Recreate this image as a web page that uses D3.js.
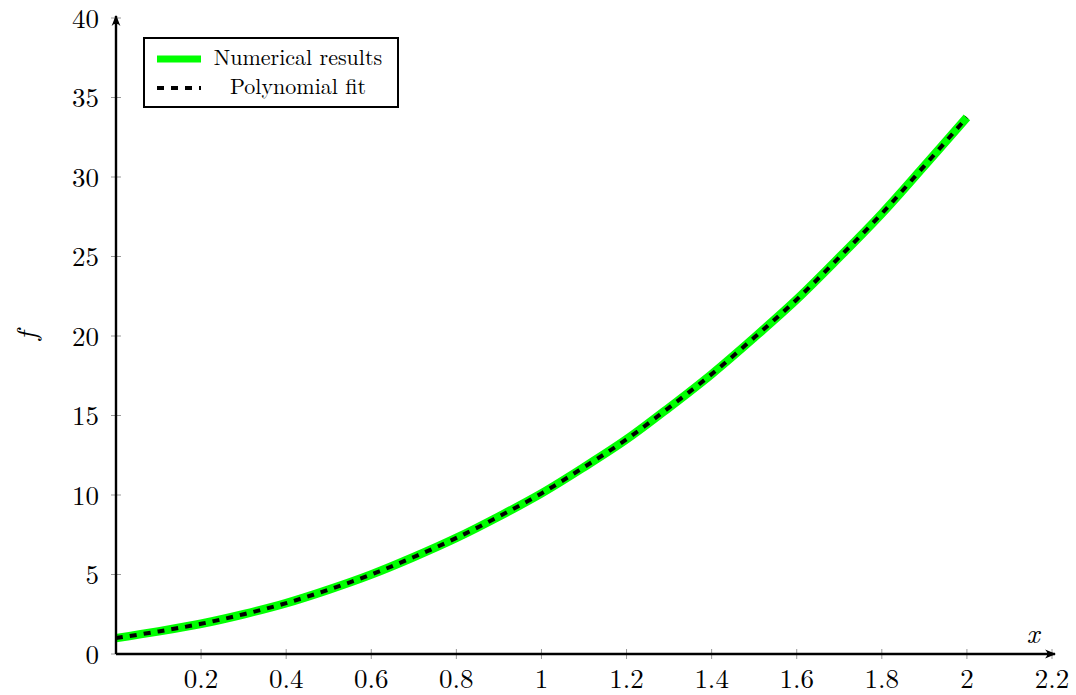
<!DOCTYPE html>
<html>
<head>
<meta charset="utf-8">
<script src="https://cdn.jsdelivr.net/npm/d3@7"></script>
<style>
  html, body { margin: 0; padding: 0; background: #fff; }
  svg text { font-family: "Latin Modern Roman", "Times New Roman", "DejaVu Serif", serif; fill: #000; }
</style>
</head>
<body>
<svg id="chart" width="1076" height="695"></svg>
<script>
// Sampled solution f(x) and its polynomial fit
const xValues = [0, 0.1, 0.2, 0.3, 0.4, 0.5, 0.6, 0.7, 0.8, 0.9, 1.0,
                 1.1, 1.2, 1.3, 1.4, 1.5, 1.6, 1.7, 1.8, 1.9, 2.0];
const numericalValues = [1.0, 1.42, 1.9, 2.5, 3.2, 4.05, 5.0, 6.1, 7.3, 8.65, 10.1,
                         11.75, 13.5, 15.5, 17.6, 19.9, 22.3, 24.95, 27.7, 30.7, 33.75];
const fitValues = [1.0, 1.42, 1.9, 2.5, 3.2, 4.05, 5.0, 6.1, 7.3, 8.65, 10.1,
                   11.75, 13.5, 15.5, 17.6, 19.9, 22.3, 24.95, 27.7, 30.7, 33.75];
const xTicks = [0.2, 0.4, 0.6, 0.8, 1, 1.2, 1.4, 1.6, 1.8, 2, 2.2];
const yTicks = [0, 5, 10, 15, 20, 25, 30, 35, 40];
const seriesNames = ["Numerical results", "Polynomial fit"];

const svg = d3.select("#chart");
const x = d3.scaleLinear().domain([0, 2.2]).range([116, 1052]);
const y = d3.scaleLinear().domain([0, 40]).range([654, 18]);

// arrow heads for the axes
const defs = svg.append("defs");
defs.append("marker")
  .attr("id", "arrow")
  .attr("viewBox", "0 0 10 10")
  .attr("refX", 9).attr("refY", 5)
  .attr("markerWidth", 11).attr("markerHeight", 11)
  .attr("markerUnits", "userSpaceOnUse")
  .attr("orient", "auto")
  .append("path")
  .attr("d", "M0,1 Q4,5 0,9 L10,5 Z")
  .attr("fill", "#000");

// tick marks (grey, crossing the axis lines)
svg.append("g").selectAll("line").data(xTicks).join("line")
  .attr("x1", d => x(d)).attr("x2", d => x(d))
  .attr("y1", y(0) - 5).attr("y2", y(0) + 5)
  .attr("stroke", "#999").attr("stroke-width", 1);
svg.append("g").selectAll("line").data(yTicks).join("line")
  .attr("x1", x(0) - 5).attr("x2", x(0) + 5)
  .attr("y1", d => y(d)).attr("y2", d => y(d))
  .attr("stroke", "#999").attr("stroke-width", 1);

// curves
const line = d3.line().curve(d3.curveCatmullRom.alpha(0.5));
svg.append("path")
  .attr("d", line(xValues.map((v, i) => [x(v), y(numericalValues[i])])))
  .attr("fill", "none").attr("stroke", "#00ff00").attr("stroke-width", 8.5);
svg.append("path")
  .attr("d", line(xValues.map((v, i) => [x(v), y(fitValues[i])])))
  .attr("fill", "none").attr("stroke", "#000").attr("stroke-width", 4)
  .attr("stroke-dasharray", "7 7");

// axis lines
svg.append("line")
  .attr("x1", x(0)).attr("x2", x(2.2) + 3)
  .attr("y1", y(0)).attr("y2", y(0))
  .attr("stroke", "#000").attr("stroke-width", 2.4)
  .attr("marker-end", "url(#arrow)");
svg.append("line")
  .attr("x1", x(0)).attr("x2", x(0))
  .attr("y1", y(0)).attr("y2", y(40) - 2)
  .attr("stroke", "#000").attr("stroke-width", 2.4)
  .attr("marker-end", "url(#arrow)");

// tick labels
svg.append("g").selectAll("text").data(xTicks).join("text")
  .attr("x", d => x(d)).attr("y", 688)
  .attr("text-anchor", "middle").attr("font-size", 27)
  .text(d => d3.format("~g")(d));
svg.append("g").selectAll("text").data(yTicks).join("text")
  .attr("x", 99).attr("y", d => y(d) + 9.5)
  .attr("text-anchor", "end").attr("font-size", 27)
  .text(d => d);

// axis titles
svg.append("text")
  .attr("x", 1033).attr("y", 643)
  .attr("text-anchor", "middle").attr("font-size", 28).attr("font-style", "italic")
  .text("x");
svg.append("text")
  .attr("transform", "translate(36,336) rotate(-90)")
  .attr("text-anchor", "middle").attr("font-size", 28).attr("font-style", "italic")
  .text("f");

// legend
const legend = svg.append("g");
legend.append("rect")
  .attr("x", 144).attr("y", 38).attr("width", 254).attr("height", 69)
  .attr("fill", "#fff").attr("stroke", "#000").attr("stroke-width", 2);
legend.append("line")
  .attr("x1", 157).attr("x2", 201).attr("y1", 59).attr("y2", 59)
  .attr("stroke", "#00ff00").attr("stroke-width", 7);
legend.append("line")
  .attr("x1", 157).attr("x2", 201).attr("y1", 88).attr("y2", 88)
  .attr("stroke", "#000").attr("stroke-width", 4)
  .attr("stroke-dasharray", "7 7");
legend.selectAll("text.lbl").data(seriesNames).join("text")
  .attr("class", "lbl")
  .attr("x", 298).attr("y", (d, i) => 65 + i * 29)
  .attr("text-anchor", "middle").attr("font-size", 22)
  .text(d => d);
</script>
</body>
</html>
